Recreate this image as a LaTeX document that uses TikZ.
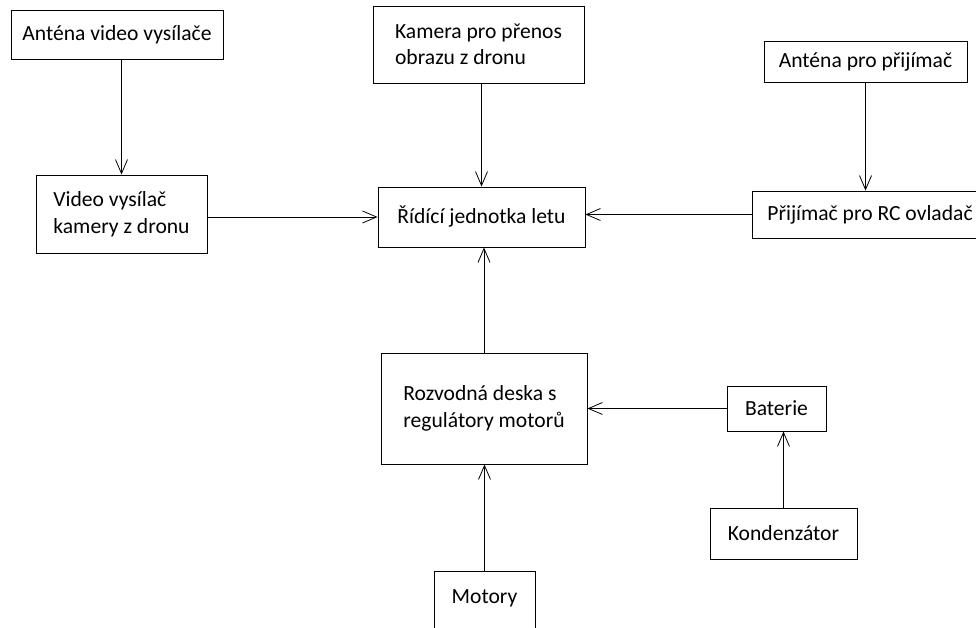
\documentclass[tikz,border=0pt]{standalone}
\usepackage{fontspec}
\setmainfont{Carlito}
\usetikzlibrary{arrows.meta}

\begin{document}
\begin{tikzpicture}[
  x=1pt, y=-1pt,
  font=\fontsize{21.6}{26.5}\selectfont,      % Calibri-like text
  block/.style = {rectangle,
                  draw,
                  line width=0.9pt,
                  align=left,
                  inner sep=0pt},
  arrow/.style = {-{Straight Barb[length=14pt,width=12pt]}, line width=0.8pt}
]
\useasboundingbox (0,0) rectangle (976,627);

% top row
\node[block, minimum width=212pt, minimum height=49pt]  (antvid)   at (117,34.5)  {Anténa video vysílače};
\node[block, minimum width=211pt, minimum height=77pt]  (kamera)   at (478.5,44.5) {Kamera pro přenos\\obrazu z dronu};
\node[block, minimum width=203pt, minimum height=41pt]  (antprij)  at (865.5,61.5) {Anténa pro přijímač};

% middle row
\node[block, minimum width=171pt, minimum height=78pt]  (vysilac)  at (121.5,214) {Video vysílač\\kamery z dronu};
\node[block, minimum width=207pt, minimum height=60pt]  (ridici)   at (481.5,217) {Řídící jednotka letu};
\node[block, minimum width=236pt, minimum height=47pt]  (prijimac) at (870,214.5)  {Přijímač pro RC ovladač};

% power part
\node[block, minimum width=206pt, minimum height=111pt] (rozvod)   at (484,408.5) {Rozvodná deska s\\regulátory motorů};
\node[block, minimum width=99pt,  minimum height=45pt]  (baterie)  at (776.5,408.5) {Baterie};
\node[block, minimum width=147pt, minimum height=51pt]  (kondenz)  at (783.5,533.5) {Kondenzátor};
% bottom edge runs off the page
\node[block, minimum width=101pt, text height=32pt, text depth=30pt, anchor=base]
                                                        (motory)   at (484.5,603) {Motory};

\draw[arrow] (antvid.south -| vysilac) -- (vysilac);
\draw[arrow] (kamera.south -| ridici) -- (ridici);
\draw[arrow] (antprij.south) -- (antprij.south |- prijimac.north);
\draw[arrow] (vysilac.east |- ridici) -- (ridici);
\draw[arrow] (prijimac.west) -- (prijimac.west -| ridici.east);
\draw[arrow] (rozvod.north) -- (rozvod.north |- ridici.south);
\draw[arrow] (baterie) -- (rozvod);
\draw[arrow] (motory.north) -- (motory.north |- rozvod.south);
\draw[arrow] (kondenz.north) -- (kondenz.north |- baterie.south);

\end{tikzpicture}
\end{document}
